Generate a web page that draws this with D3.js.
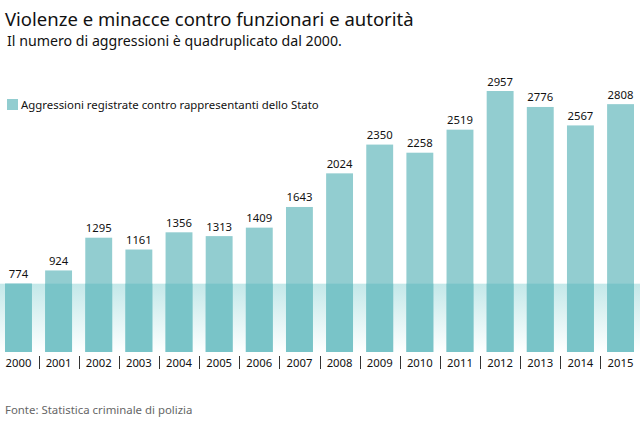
<!DOCTYPE html>
<meta charset="utf-8">
<script src="https://d3js.org/d3.v7.min.js"></script>
<style>
  body { margin: 0; background: #fff; }
  text { font-family: "Noto Sans", sans-serif; }
</style>
<div id="chart"></div>
<script>
  // data
  var years = ["2000","2001","2002","2003","2004","2005","2006","2007","2008","2009","2010","2011","2012","2013","2014","2015"];
  var values = [774, 924, 1295, 1161, 1356, 1313, 1409, 1643, 2024, 2350, 2258, 2519, 2957, 2776, 2567, 2808];

  var W = 640, H = 426;
  var svg = d3.select("#chart").append("svg")
      .attr("width", W)
      .attr("height", H);

  var x = d3.scaleBand()
      .domain(years)
      .range([5, 634])
      .paddingInner(0.33)
      .paddingOuter(0);

  var y = d3.scaleLinear()
      .domain([0, 2957])
      .range([352, 91]);

  // gradient for the 2000 band
  var defs = svg.append("defs");
  var grad = defs.append("linearGradient")
      .attr("id", "band")
      .attr("x1", 0).attr("y1", 0).attr("x2", 0).attr("y2", 1);
  grad.append("stop").attr("offset", "0%").attr("stop-color", "#c3e8e9");
  grad.append("stop").attr("offset", "100%").attr("stop-color", "#ffffff");

  svg.append("rect")
      .attr("x", 0)
      .attr("width", W)
      .attr("y", y(values[0]))
      .attr("height", y(0) - y(values[0]))
      .attr("fill", "url(#band)");

  // bars
  var bars = svg.append("g").selectAll("g")
      .data(values)
      .enter().append("g");

  bars.append("rect")
      .attr("x", (d, i) => x(years[i]))
      .attr("width", x.bandwidth())
      .attr("y", d => y(d))
      .attr("height", d => y(0) - y(d))
      .attr("fill", "#92cdd0");

  // darker part of each bar inside the band
  bars.append("rect")
      .attr("x", (d, i) => x(years[i]))
      .attr("width", x.bandwidth())
      .attr("y", y(values[0]))
      .attr("height", y(0) - y(values[0]))
      .attr("fill", "#79c4c8");

  bars.append("text")
      .attr("x", (d, i) => x(years[i]) + x.bandwidth() / 2)
      .attr("y", d => y(d) - 5.5)
      .attr("text-anchor", "middle")
      .attr("font-size", 11.3)
      .attr("fill", "#111")
      .text(d => d);

  // year labels
  var axis = svg.append("g");
  axis.selectAll("text")
      .data(years)
      .enter().append("text")
      .attr("x", d => x(d) + x.bandwidth() / 2)
      .attr("y", 367)
      .attr("text-anchor", "middle")
      .attr("font-size", 11.3)
      .attr("fill", "#111")
      .text(d => d);

  axis.selectAll("line")
      .data(years.slice(1))
      .enter().append("line")
      .attr("x1", d => Math.round(x(d) - x.step() * x.paddingInner() / 2) + 0.5)
      .attr("x2", d => Math.round(x(d) - x.step() * x.paddingInner() / 2) + 0.5)
      .attr("y1", 356)
      .attr("y2", 369)
      .attr("stroke", "#333")
      .attr("stroke-width", 1);

  // titles
  svg.append("text")
      .attr("x", 5).attr("y", 26)
      .attr("font-size", 18.5)
      .attr("fill", "#111")
      .text("Violenze e minacce contro funzionari e autorità");

  svg.append("text")
      .attr("x", 7).attr("y", 45.5)
      .attr("font-size", 14.2)
      .attr("fill", "#111")
      .text("Il numero di aggressioni è quadruplicato dal 2000.");

  // legend
  svg.append("rect")
      .attr("x", 7).attr("y", 99)
      .attr("width", 11).attr("height", 11)
      .attr("fill", "#92cdd0");
  svg.append("text")
      .attr("x", 21).attr("y", 109)
      .attr("font-size", 11.4)
      .attr("fill", "#111")
      .text("Aggressioni registrate contro rappresentanti dello Stato");

  // source
  svg.append("text")
      .attr("x", 5).attr("y", 414)
      .attr("font-size", 11.4)
      .attr("fill", "#666")
      .text("Fonte: Statistica criminale di polizia");
</script>
